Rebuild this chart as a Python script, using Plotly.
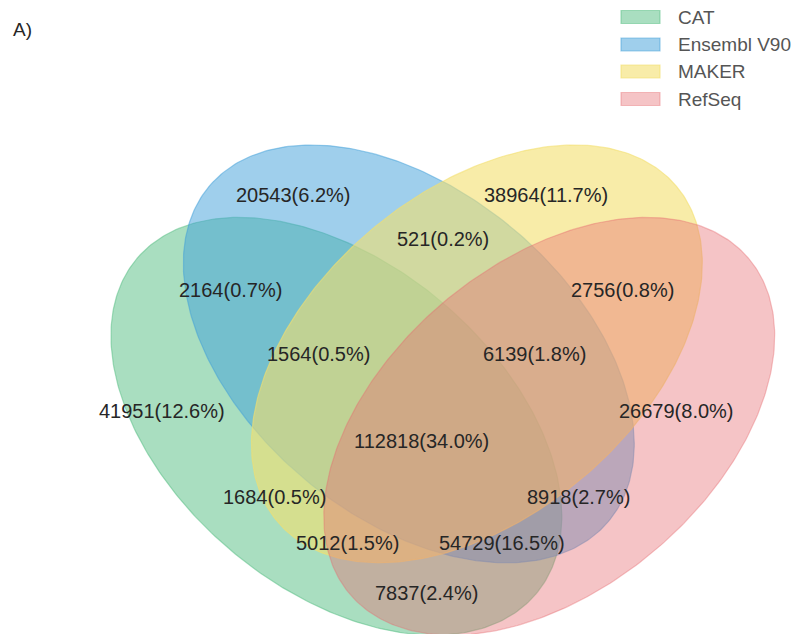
import numpy as np
import plotly.graph_objects as go

# Set names and colours (r, g, b, alpha)
set_names = ["CAT", "Ensembl V90", "MAKER", "RefSeq"]
set_colors = [(83, 189, 129, 0.5), (63, 159, 217, 0.5), (243, 223, 110, 0.6), (230, 108, 113, 0.4)]

# Ellipse geometry in unit coordinates: centre x, centre y, width, height, angle (deg)
ell_cx = [0.350, 0.450, 0.544, 0.644]
ell_cy = [0.400, 0.500, 0.500, 0.400]
ell_w = [0.72, 0.72, 0.72, 0.72]
ell_h = [0.45, 0.45, 0.45, 0.45]
ell_angle = [140.0, 140.0, 40.0, 40.0]

# Region membership keys (CAT, Ensembl, MAKER, RefSeq) and counts
region_keys = ["1000", "0100", "0010", "0001", "1100", "0110", "0011",
               "1010", "0101", "1001", "1110", "0111", "1011", "1101", "1111"]
region_counts = [41951, 20543, 38964, 26679, 2164, 521, 2756,
                 1684, 8918, 7837, 1564, 6139, 5012, 54729, 112818]
# Label anchor positions in unit coordinates
region_lx = [0.109, 0.291, 0.640, 0.820, 0.204, 0.497, 0.745,
             0.265, 0.685, 0.474, 0.325, 0.624, 0.365, 0.579, 0.467]
region_ly = [0.421, 0.719, 0.719, 0.421, 0.588, 0.659, 0.588,
             0.302, 0.302, 0.170, 0.500, 0.500, 0.239, 0.239, 0.380]

W, H = 795, 634
SCALE = 724.0           # pixels per unit
X_LEFT = -83.0 / SCALE  # unit x at the left edge
Y_TOP = 0.7885 + 145.0 / SCALE  # unit y at the top edge


def rgba(c, a=None):
    r, g, b, al = c
    return f"rgba({r},{g},{b},{al if a is None else a})"


def ellipse_xy(cx, cy, w, h, ang, n=361):
    t = np.linspace(0, 2 * np.pi, n)
    th = np.deg2rad(ang)
    a, b = w / 2, h / 2
    x = cx + a * np.cos(t) * np.cos(th) - b * np.sin(t) * np.sin(th)
    y = cy + a * np.cos(t) * np.sin(th) + b * np.sin(t) * np.cos(th)
    return x, y


fig = go.Figure()

for i in range(4):
    x, y = ellipse_xy(ell_cx[i], ell_cy[i], ell_w[i], ell_h[i], ell_angle[i])
    fig.add_trace(go.Scatter(
        x=x, y=y, mode="lines", fill="toself",
        fillcolor=rgba(set_colors[i]),
        line=dict(color=rgba(set_colors[i]), width=1.2),
        hoverinfo="skip", showlegend=False, name=set_names[i],
    ))

total = sum(region_counts)
annotations = []
for n, lx, ly in zip(region_counts, region_lx, region_ly):
    annotations.append(dict(
        x=lx, y=ly, xref="x", yref="y", showarrow=False,
        text=f"{n}({n / total * 100:.1f}%)",
        font=dict(family="Liberation Sans, Arial, sans-serif", size=20, color="#262626"),
        xanchor="center", yanchor="middle",
    ))

# Panel tag
annotations.append(dict(
    x=11 / W, y=1 - 29 / H, xref="paper", yref="paper", showarrow=False,
    text="A)", xanchor="left", yanchor="middle",
    font=dict(family="Liberation Sans, Arial, sans-serif", size=19, color="#262626"),
))

# Legend drawn as swatches + labels
shapes = []
leg_top = [10.5, 38, 65, 92.5]
for i, name in enumerate(set_names):
    y0 = leg_top[i]
    shapes.append(dict(
        type="rect", xref="paper", yref="paper",
        x0=621 / W, x1=660 / W, y0=1 - y0 / H, y1=1 - (y0 + 13) / H,
        fillcolor=rgba(set_colors[i]), line=dict(color=rgba(set_colors[i]), width=1.2),
    ))
    annotations.append(dict(
        x=676 / W, y=1 - (y0 + 6.5) / H, xref="paper", yref="paper", showarrow=False,
        text=name, xanchor="left", yanchor="middle",
        font=dict(family="Liberation Sans, Arial, sans-serif", size=19, color="#555555"),
    ))

fig.update_layout(
    width=W, height=H,
    margin=dict(l=0, r=0, t=0, b=0),
    paper_bgcolor="white", plot_bgcolor="white",
    xaxis=dict(range=[X_LEFT, X_LEFT + W / SCALE], visible=False, fixedrange=True),
    yaxis=dict(range=[Y_TOP - H / SCALE, Y_TOP], visible=False, fixedrange=True),
    annotations=annotations, shapes=shapes, showlegend=False,
)

fig.write_html("out.html")
